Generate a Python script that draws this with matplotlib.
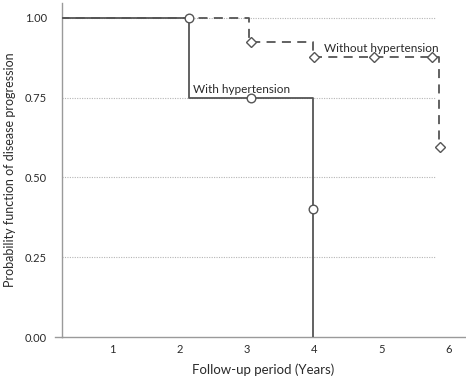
import matplotlib
matplotlib.use("Agg")
import matplotlib.pyplot as plt

# ---- data ----
with_times = [0.0, 2.14, 3.98]
with_surv = [1.00, 0.75, 0.00]
with_cens_t = [2.14, 3.06, 3.98]
with_cens_s = [1.00, 0.75, 0.40]

without_times = [0.0, 3.03, 3.98, 5.85]
without_surv = [1.00, 0.925, 0.877, 0.595]
without_cens_t = [3.06, 4.00, 4.88, 5.74, 5.87]
without_cens_s = [0.925, 0.877, 0.877, 0.877, 0.595]

x_ticks = [1, 2, 3, 4, 5, 6]
y_ticks = [0.00, 0.25, 0.50, 0.75, 1.00]
label_with = "With hypertension"
label_without = "Without hypertension"
x_label = "Follow-up period (Years)"
y_label = "Probability function of disease progression"

plt.rcParams['font.family'] = ['Lato', 'DejaVu Sans']

W, H = 466, 380
fig = plt.figure(figsize=(W / 100, H / 100), dpi=100)
ax = fig.add_axes([62 / W, (H - 337) / H, (465 - 62) / W, (337 - 3) / H])

xmin, xmax = 0.257, 6.236
ymin, ymax = 0.0, 1.047
ax.set_xlim(xmin, xmax)
ax.set_ylim(ymin, ymax)

line_col = '#555555'
grid_col = '#b5b5b5'
spine_col = '#9a9a9a'
text_col = '#2a2a2a'

# grid lines (dotted), ending short of right edge
for yv in y_ticks[1:]:
    ax.plot([xmin, 5.79], [yv, yv], linestyle=(0, (1, 1.2)), color=grid_col,
            linewidth=0.8, zorder=1)

# without hypertension (dashed)
ax.step(without_times, without_surv, where='post', color=line_col,
        linewidth=1.3, linestyle=(0, (5, 3.5)), zorder=2)
ax.plot(without_cens_t, without_cens_s, linestyle='none', marker='D',
        markersize=5.2, markerfacecolor='white', markeredgecolor=line_col,
        markeredgewidth=1.0, zorder=4)

# with hypertension (solid)
ax.step(with_times, with_surv, where='post', color=line_col,
        linewidth=1.3, linestyle='-', zorder=3)
ax.plot(with_cens_t, with_cens_s, linestyle='none', marker='o',
        markersize=6.2, markerfacecolor='white', markeredgecolor=line_col,
        markeredgewidth=1.0, zorder=4)

ax.text(2.20, 0.765, label_with, fontsize=8.5, color=text_col,
        ha='left', va='baseline')
ax.text(4.14, 0.893, label_without, fontsize=8.5, color=text_col,
        ha='left', va='baseline')

# spines
for s in ['top', 'right']:
    ax.spines[s].set_visible(False)
for s in ['left', 'bottom']:
    ax.spines[s].set_color(spine_col)
    ax.spines[s].set_linewidth(1.0)
# small extension of bottom spine to the left
ax.plot([-7 / (465 - 62), 0], [0, 0], transform=ax.transAxes, color=spine_col,
        linewidth=1.0, clip_on=False)

ax.set_xticks(x_ticks)
ax.set_xticklabels([str(v) for v in x_ticks])
ax.set_yticks(y_ticks)
ax.set_yticklabels([f"{v:.2f}" for v in y_ticks])
ax.tick_params(axis='both', length=0, labelsize=8, labelcolor=text_col)
ax.tick_params(axis='y', pad=11)
ax.tick_params(axis='x', pad=5)

ax.set_xlabel(x_label, fontsize=9.5, color=text_col, labelpad=6)
ax.set_ylabel(y_label, fontsize=9, color=text_col, labelpad=6)

fig.savefig('out.png', dpi=100)
